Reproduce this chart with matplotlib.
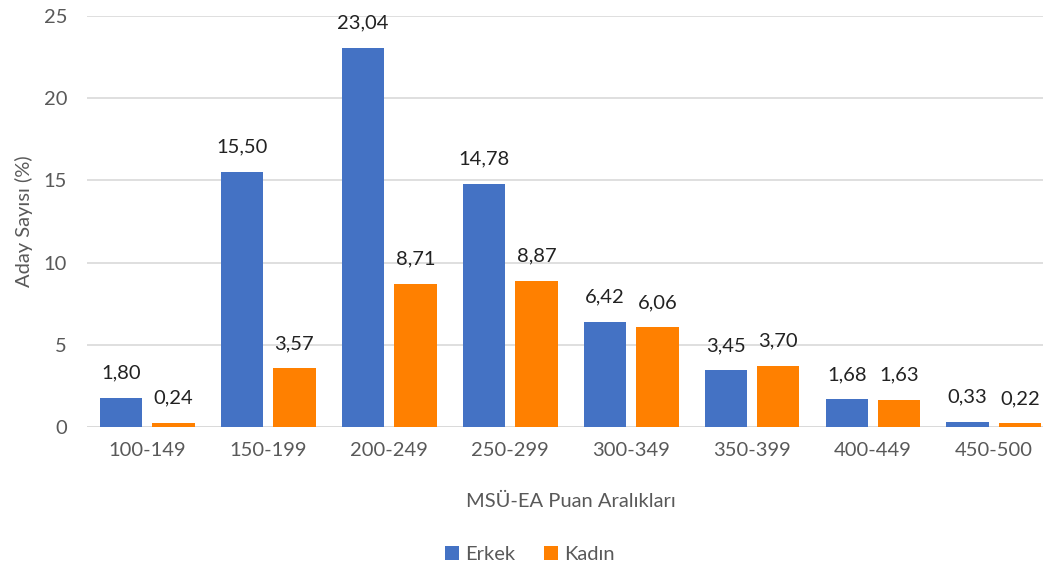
import matplotlib
matplotlib.use("Agg")
import matplotlib.pyplot as plt
import numpy as np

categories = ["100-149", "150-199", "200-249", "250-299", "300-349", "350-399", "400-449", "450-500"]
erkek = [1.80, 15.50, 23.04, 14.78, 6.42, 3.45, 1.68, 0.33]
kadin = [0.24, 3.57, 8.71, 8.87, 6.06, 3.70, 1.63, 0.22]
series_names = ["Erkek", "Kadın"]
yticks = [0, 5, 10, 15, 20, 25]

plt.rcParams['font.family'] = ['Lato', 'DejaVu Sans']

fig = plt.figure(figsize=(10.43, 5.71), dpi=100)
ax = fig.add_axes([0.083, 0.252, 0.928, 0.72])

x = np.arange(len(categories))
w = 0.35
off = 0.2175
b1 = ax.bar(x - off, erkek, w, color="#4472C4", label=series_names[0], zorder=3)
b2 = ax.bar(x + off, kadin, w, color="#FF8000", label=series_names[1], zorder=3)

for bars, vals in ((b1, erkek), (b2, kadin)):
    for r, v in zip(bars, vals):
        ax.text(r.get_x() + r.get_width() / 2, v + 1.0, f"{v:.2f}".replace(".", ","),
                ha="center", va="bottom", fontsize=14.5, color="#222222")

ax.set_xlim(-0.5, len(categories) - 0.5)
ax.set_ylim(0, 25)
ax.set_yticks(yticks)
ax.set_xticks(x)
ax.set_xticklabels(categories)
ax.tick_params(axis="both", length=0, labelsize=14.5, colors="#595959")
ax.tick_params(axis="x", pad=11)
ax.tick_params(axis="y", pad=14)
ax.grid(axis="y", color="#D9D9D9", linewidth=1.2, zorder=0)
for s in ax.spines.values():
    s.set_visible(False)
ax.axhline(0, color="#D9D9D9", linewidth=1.2, zorder=2)

ax.set_ylabel("Aday Sayısı (%)", fontsize=14.5, color="#595959", labelpad=8)
ax.set_xlabel("MSÜ-EA Puan Aralıkları", fontsize=14.5, color="#595959", labelpad=24)

leg = fig.legend(loc="lower center", bbox_to_anchor=(0.508, -0.018), ncol=2, frameon=False,
                 fontsize=14.5, handlelength=0.7, handleheight=0.7, handletextpad=0.3,
                 columnspacing=1.4)
for t in leg.get_texts():
    t.set_color("#595959")

fig.savefig("out.png", dpi=100)
